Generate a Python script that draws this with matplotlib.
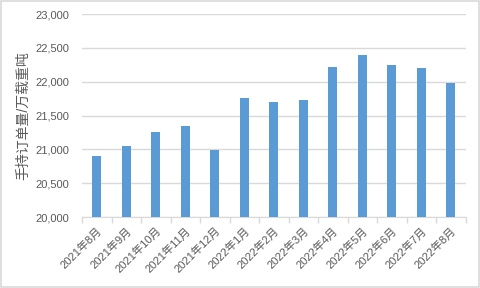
import matplotlib
matplotlib.use("Agg")
from matplotlib import pyplot as plt
from matplotlib.ticker import FuncFormatter, MultipleLocator
import numpy as np

plt.rcParams['font.family'] = ['Liberation Sans', 'Noto Sans CJK SC']

months = ["2021年8月", "2021年9月", "2021年10月", "2021年11月", "2021年12月",
          "2022年1月", "2022年2月", "2022年3月", "2022年4月", "2022年5月",
          "2022年6月", "2022年7月", "2022年8月"]
orders = [20905, 21053, 21256, 21344, 20990,
          21758, 21699, 21728, 22216, 22393,
          22245, 22201, 21979]

bar_color = "#5B9BD5"
text_color = "#595959"
grid_color = "#D9D9D9"

fig = plt.figure(figsize=(4.8, 2.88), dpi=100)
ax = fig.add_axes([0.171, 0.2465, 0.799, 0.7045])

x = np.arange(len(months))
ax.bar(x, orders, width=0.31, color=bar_color, zorder=3)

ax.set_ylim(20000, 23000)
ax.set_xlim(-0.5, len(months) - 0.5)
ax.yaxis.set_major_locator(MultipleLocator(500))
ax.yaxis.set_major_formatter(FuncFormatter(lambda v, p: f"{int(v):,}"))
ax.grid(axis='y', color=grid_color, linewidth=1, zorder=0)
ax.tick_params(axis='y', length=0, pad=9, labelsize=8, labelcolor=text_color)

ax.set_xticks(x)
ax.set_xticklabels(months, rotation=45, ha='right', va='top', rotation_mode='anchor')
ax.set_xticks(np.arange(-0.5, len(months), 1.0), minor=True)
ax.tick_params(axis='x', which='major', length=0, pad=6, labelsize=8, labelcolor=text_color)
ax.tick_params(axis='x', which='minor', length=4, color=grid_color, width=1)

for s in ['top', 'right', 'left']:
    ax.spines[s].set_visible(False)
ax.spines['bottom'].set_color(grid_color)

ax.set_ylabel("手持订单量/万载重吨", fontsize=10, color=text_color, labelpad=4)

fig.patches.append(plt.Rectangle((0.002, 0.003), 0.996, 0.994, transform=fig.transFigure,
                                 fill=False, edgecolor=grid_color, linewidth=1.2))

fig.savefig("out.png", dpi=100)
